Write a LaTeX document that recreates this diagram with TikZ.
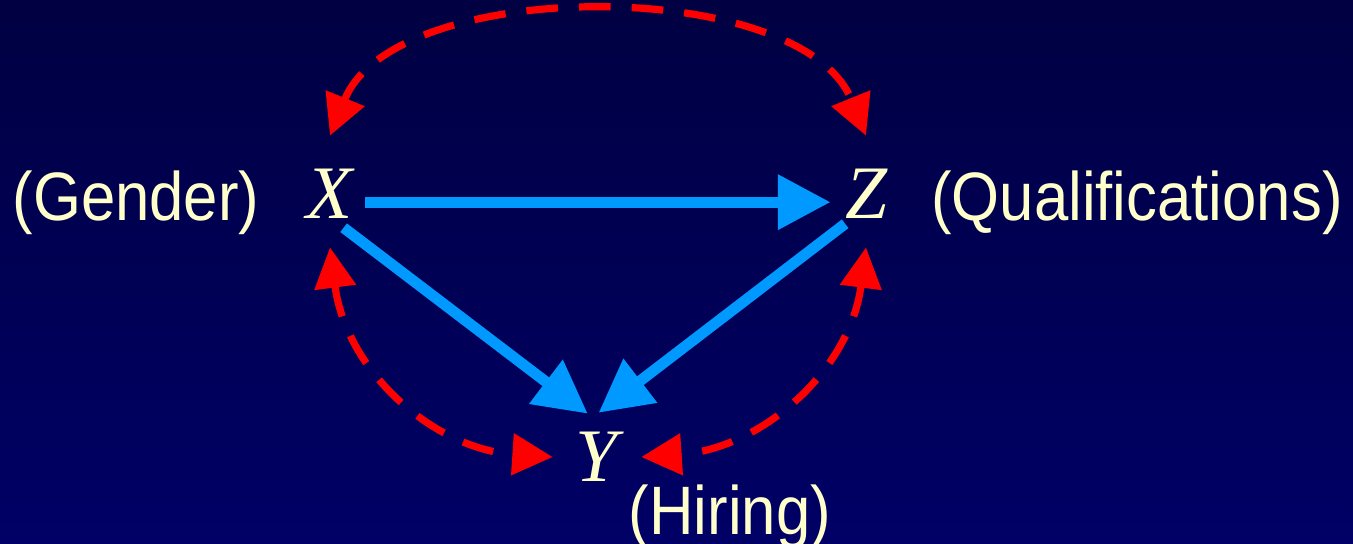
\documentclass[tikz,border=0pt]{standalone}
\usepackage{fontspec}
\setmainfont{Liberation Sans}
\newfontfamily\varfont{Liberation Serif}
\usetikzlibrary{arrows.meta,calc}
\definecolor{bgtop}{RGB}{0,0,66}
\definecolor{bgbot}{RGB}{0,0,102}
\definecolor{txt}{RGB}{255,255,204}
\definecolor{causal}{RGB}{0,153,255}
\newcommand{\lbltext}[1]{\scalebox{0.9}[1]{#1}}
\begin{document}
\begin{tikzpicture}[x=0.02cm,y=-0.02cm,
  var/.style={circle,inner sep=0pt,minimum size=41pt,text=txt,font=\fontsize{43}{43}\varfont\itshape},
  lbl/.style={anchor=base,text=txt,font=\fontsize{39}{39}\selectfont},
  edge/.style={line width=6.2pt,draw=causal,>={Triangle[length=30pt,width=30pt]},->},
  biedge/.style={line width=4.1pt,draw=red,dash pattern=on 18pt off 12pt,>={Triangle[length=23pt,width=23pt]},<->}]
  \shade[top color=bgtop,bottom color=bgbot] (0,0) rectangle (1353,544);
  \useasboundingbox (0,0) rectangle (1353,544);
  \node[var] (X) at (330,194) {X};
  \node[var] (Z) at (866,194) {Z};
  \node[var,minimum size=50pt] (Y) at (597,457) {Y};
  \node[lbl] (gender) at (136,220) {\lbltext{(Gender)}};
  \node[lbl] (qual) at (1137,220) {\lbltext{(Qualifications)}};
  \node[lbl] (hiring) at (730,534) {\lbltext{(Hiring)}};
  \draw[edge] (X.-13) -- (Z.193);
  \draw[edge] (X.-68) -- (Y.102);
  \draw[edge] (Z.-125) -- (Y.88);
  \draw[biedge] ([yshift=0.44cm]X.north) .. controls +(65,-160) and +(-65,-160) .. ([yshift=0.44cm]Z.north);
  \draw[biedge] ([yshift=-0.34cm]X.south) .. controls +(16,123) and +(-120,-8) .. (Y.west);
  \draw[biedge] ([yshift=-0.34cm]Z.south) .. controls +(-16,123) and +(120,-8) .. (Y.east);
\end{tikzpicture}
\end{document}
